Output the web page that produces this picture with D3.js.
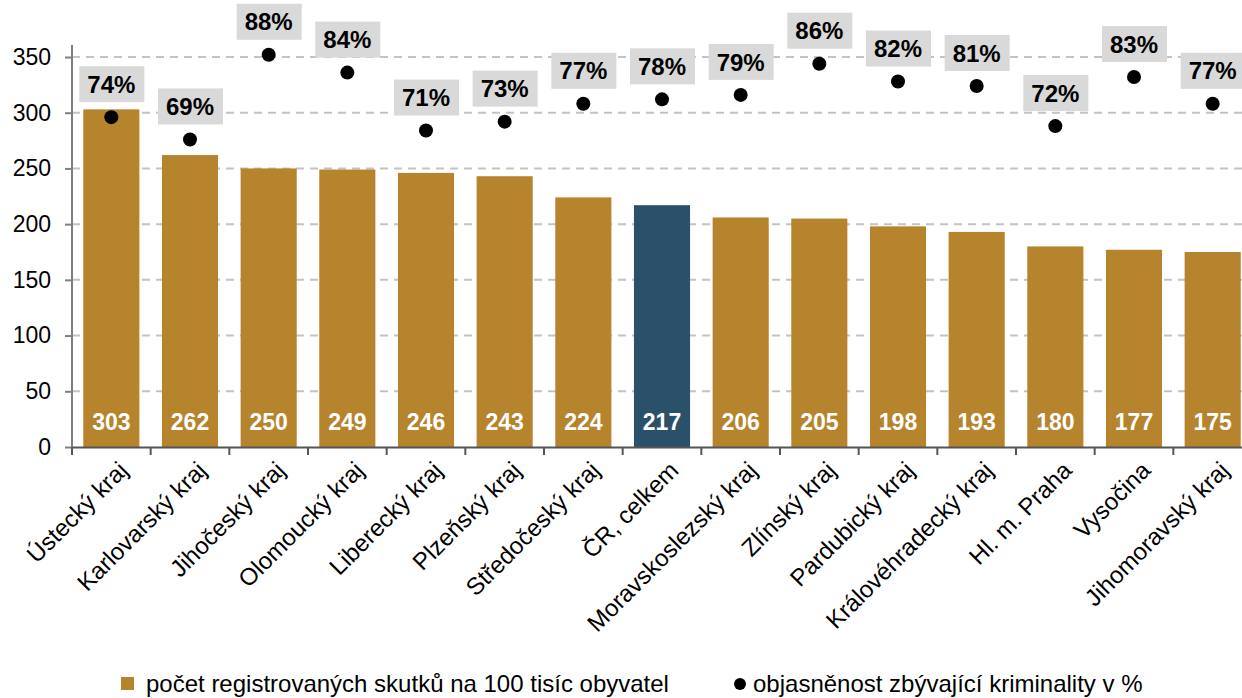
<!DOCTYPE html>
<html><head><meta charset="utf-8">
<script src="https://cdn.jsdelivr.net/npm/d3@7"></script>
<style>body{margin:0;background:#fff}svg{display:block;font-family:"Liberation Sans",Arial,sans-serif}</style>
</head><body><svg id="c" width="1242" height="698"></svg>
<script>
const categories = ["Ústecký kraj","Karlovarský kraj","Jihočeský kraj","Olomoucký kraj","Liberecký kraj","Plzeňský kraj","Středočeský kraj","ČR, celkem","Moravskoslezský kraj","Zlínský kraj","Pardubický kraj","Královéhradecký kraj","Hl. m. Praha","Vysočina","Jihomoravský kraj"];
const crimeRate = [303,262,250,249,246,243,224,217,206,205,198,193,180,177,175];
const clearance = [74,69,88,84,71,73,77,78,79,86,82,81,72,83,77];
const yTicks = [0,50,100,150,200,250,300,350];
const legendLabels = ["počet registrovaných skutků na 100 tisíc obyvatel","objasněnost zbývající kriminality v %"];

const svg = d3.select("#c");
const mLeft = 72, mRight = 1252, mTop = 57, mBottom = 447;
const x = d3.scaleBand().domain(categories).range([mLeft, mRight]).paddingInner(0.287).paddingOuter(0.1435);
const xTicks = d3.scaleBand().domain(categories).range([mLeft, mRight]);
const y = d3.scaleLinear().domain([0, 350]).range([mBottom, mTop]);
const y2 = d3.scaleLinear().domain([0, 87.5]).range([mBottom, mTop]);

// gridlines
svg.append("g").selectAll("line").data(yTicks.filter(d => d > 0)).join("line")
  .attr("x1", mLeft).attr("x2", mRight).attr("y1", d => y(d)).attr("y2", d => y(d))
  .attr("stroke", "#c3c3c3").attr("stroke-width", 2).attr("stroke-dasharray", "8,6");

// bars
svg.append("g").selectAll("rect").data(categories).join("rect")
  .attr("x", d => x(d)).attr("width", x.bandwidth())
  .attr("y", (d, i) => y(crimeRate[i])).attr("height", (d, i) => mBottom - y(crimeRate[i]))
  .attr("fill", d => d === "ČR, celkem" ? "#2b5069" : "#b5842d");

// bar value labels
svg.append("g").selectAll("text").data(categories).join("text")
  .attr("x", d => x(d) + x.bandwidth() / 2).attr("y", 430)
  .attr("text-anchor", "middle").attr("fill", "#fff").attr("font-weight", "bold").attr("font-size", 23)
  .text((d, i) => crimeRate[i]);

// y axis
const yAxis = svg.append("g").attr("transform", `translate(${mLeft},0)`)
  .call(d3.axisLeft(y).tickValues(yTicks).tickSize(7).tickSizeOuter(0).tickPadding(14));
yAxis.select(".domain").attr("stroke", "#7f7f7f").attr("stroke-width", 2).attr("d", `M0,${mTop - 12}V${mBottom}`);
yAxis.selectAll(".tick line").attr("stroke", "#7f7f7f").attr("stroke-width", 2);
yAxis.selectAll(".tick text").attr("font-size", 23).attr("fill", "#000").attr("font-family", "Liberation Sans, Arial, sans-serif");

// x axis
const xAxis = svg.append("g").attr("transform", `translate(0,${mBottom})`)
  .call(d3.axisBottom(xTicks).tickSize(0).tickFormat(""));
xAxis.select(".domain").attr("stroke", "#555").attr("stroke-width", 2);
svg.append("g").selectAll("line").data(categories.map((d, i) => i).concat([categories.length])).join("line")
  .attr("x1", i => mLeft + i * xTicks.step()).attr("x2", i => mLeft + i * xTicks.step())
  .attr("y1", mBottom).attr("y2", mBottom + 8).attr("stroke", "#555").attr("stroke-width", 2);

svg.append("g").selectAll("text").data(categories).join("text")
  .attr("transform", d => `translate(${xTicks(d) + xTicks.bandwidth() / 2 + 6},${mBottom + 13}) rotate(-45)`)
  .attr("text-anchor", "end").attr("dy", "0.7em").attr("font-size", 24).attr("fill", "#000")
  .text(d => d);

// dots and percentage labels
const dots = svg.append("g");
dots.selectAll("circle").data(categories).join("circle")
  .attr("cx", d => x(d) + x.bandwidth() / 2).attr("cy", (d, i) => y2(clearance[i]))
  .attr("r", 7).attr("fill", "#000");
const lab = svg.append("g").selectAll("g").data(categories).join("g")
  .attr("transform", (d, i) => `translate(${x(d) + x.bandwidth() / 2},${y2(clearance[i]) - 33})`);
lab.append("rect").attr("x", -32).attr("y", -18).attr("width", 65).attr("height", 36).attr("fill", "#d9d9d9");
lab.append("text").attr("text-anchor", "middle").attr("dy", "0.36em")
  .attr("font-size", 24).attr("font-weight", "bold").attr("fill", "#000")
  .text((d, i) => clearance[i] + "%");

// legend
const lg = svg.append("g");
lg.append("rect").attr("x", 121).attr("y", 677).attr("width", 13).attr("height", 13).attr("fill", "#b5842d");
lg.append("text").attr("x", 146).attr("y", 692).attr("font-size", 24).attr("fill", "#000").text(legendLabels[0]);
lg.append("circle").attr("cx", 740).attr("cy", 684).attr("r", 6).attr("fill", "#000");
lg.append("text").attr("x", 753).attr("y", 692).attr("font-size", 24).attr("fill", "#000").text(legendLabels[1]);
</script></body></html>
